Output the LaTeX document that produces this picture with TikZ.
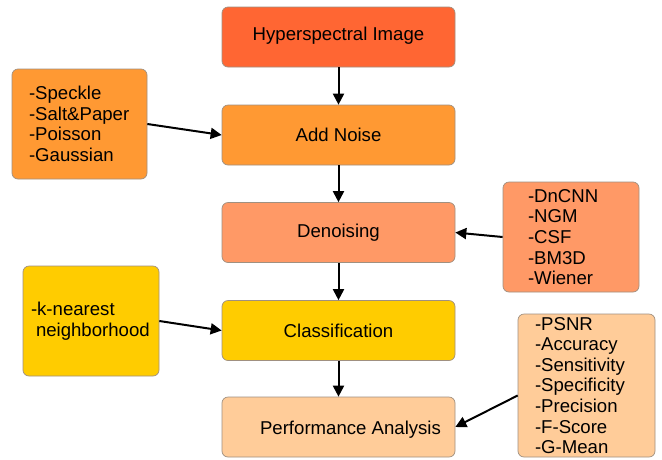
\documentclass[tikz,border=0pt]{standalone}
\usepackage{fontspec}
\setmainfont{Liberation Sans}
\usetikzlibrary{arrows.meta}
\definecolor{cHyper}{HTML}{FF6633}
\definecolor{cNoise}{HTML}{FF9933}
\definecolor{cDen}{HTML}{FF9966}
\definecolor{cCls}{HTML}{FFCC00}
\definecolor{cPerf}{HTML}{FFCC99}
\definecolor{cBorder}{HTML}{A09080}
\begin{document}
\begin{tikzpicture}[x=1pt,y=-1pt,
  box/.style={draw=cBorder,line width=0.7pt,rounded corners=6pt,rectangle,
    font=\fontsize{18.6}{20.6}\selectfont,inner sep=0pt},
  mainbox/.style={box,minimum width=233pt,minimum height=60pt},
  listbox/.style={box,align=left},
  conn/.style={line width=2pt,-{Triangle[length=11pt,width=11pt]}}]
\useasboundingbox (0,0) rectangle (662,459);
\fill[white] (0,0) rectangle (662,459);
% main column
\node[mainbox,fill=cHyper] (hyp) at (338.5,37) {\raisebox{1.5pt}[\height][\depth]{Hyperspectral Image}};
\node[mainbox,fill=cNoise] (add) at (338.5,135) {Add Noise};
\node[mainbox,fill=cDen] (den) at (338.5,232.5) {Denoising};
\node[mainbox,fill=cCls] (cls) at (338.5,330.5) {Classification};
\node[mainbox,fill=cPerf] (perf) at (338.5,427) {\raisebox{-3pt}[\height][\depth]{\hspace*{24pt}Performance Analysis}};
% side boxes
\node[listbox,fill=cNoise,minimum height=110pt,inner xsep=17pt,text width=101pt] (noise) at (79.5,124)
  {-Speckle\\-Salt\&Paper\\-Poisson\\-Gaussian};
\node[listbox,fill=cDen,minimum height=110pt,inner xsep=25pt,text width=86pt] (dn) at (571,237)
  {-DnCNN\\-NGM\\-CSF\\-BM3D\\-Wiener};
\node[listbox,fill=cCls,minimum height=110pt,inner xsep=8pt,text width=120pt] (knn) at (91,321)
  {-k-nearest\\\hspace*{5pt}\mbox{neighborhood}};
\node[listbox,fill=cPerf,minimum height=143pt,inner xsep=17pt,text width=103pt] (met) at (586.5,385.5)
  {-PSNR\\-Accuracy\\-Sensitivity\\-Specificity\\-Precision\\-F-Score\\-G-Mean};
% connectors
\draw[conn] (hyp) -- (add);
\draw[conn] (add) -- (den);
\draw[conn] (den) -- (cls);
\draw[conn] (cls) -- (perf);
\draw[conn] (noise.east) -- (add.west);
\draw[conn] (dn.west) -- (den.east);
\draw[conn] (knn.east) -- (cls.west);
\draw[conn] ([yshift=-10pt]met.west) -- (perf.east);
\end{tikzpicture}
\end{document}
